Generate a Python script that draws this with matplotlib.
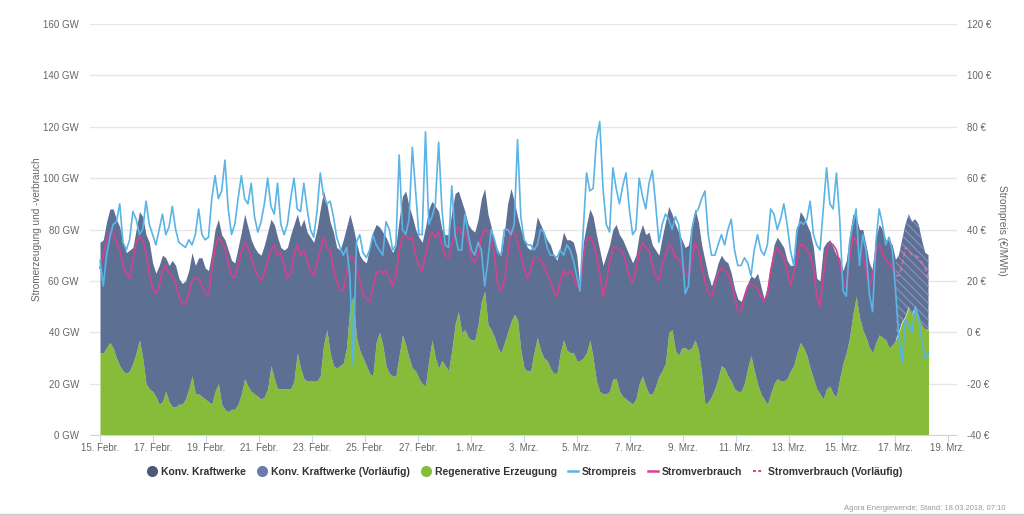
import matplotlib.pyplot as plt
import numpy as np
from matplotlib.lines import Line2D

plt.rcParams["font.family"] = ["Liberation Sans", "DejaVu Sans"]
plt.rcParams["hatch.linewidth"] = 1.0

# Werte alle 3 Stunden ab 15.02.2018 00:00 (eine Zeile = ein Tag)
GEN_TOTAL = [  # GW, Oberkante der Fläche (Regenerativ + Konventionell)
    75, 76, 83, 88, 88, 84, 81, 75,
    71, 72, 73, 80, 87, 85, 78, 75,
    67, 63, 66, 70, 69, 66, 68, 66,
    61, 59, 60, 64, 71, 66, 69, 69,
    65, 64, 71, 80, 84, 78, 76, 72,
    68, 67, 73, 79, 86, 81, 76, 73,
    71, 70, 74, 79, 84, 82, 77, 73,
    72, 73, 78, 82, 86, 81, 84, 79,
    77, 75, 80, 88, 95, 90, 83, 79,
    73, 72, 76, 81, 86, 81, 75, 70,
    68, 67, 73, 79, 82, 81, 79, 77,
    74, 71, 74, 84, 93, 95, 89, 85,
    80, 77, 75, 81, 88, 91, 89, 87,
    80, 78, 78, 87, 94, 95, 91, 87,
    82, 80, 79, 84, 92, 96, 86, 81,
    75, 72, 70, 79, 90, 96, 91, 85,
    80, 76, 73, 72, 77, 85, 82, 79,
    76, 74, 70, 68, 73, 79, 76, 76,
    75, 70, 57, 75, 82, 88, 85, 78,
    72, 66, 70, 74, 80, 82, 78, 76,
    73, 70, 67, 70, 78, 82, 78, 79,
    74, 72, 70, 77, 83, 89, 86, 82,
    79, 76, 73, 74, 82, 88, 83, 74,
    68, 62, 58, 62, 67, 70, 68, 67,
    63, 57, 53, 52, 55, 59, 62, 61,
    63, 58, 53, 58, 66, 74, 77, 75,
    73, 68, 66, 66, 80, 87, 85, 82,
    79, 73, 61, 60, 73, 75, 76, 73,
    70, 69, 64, 68, 78, 86, 85, 80,
    80, 74, 67, 64, 77, 82, 80, 76,
    76, 74, 68, 70, 76, 82, 86, 83,
    84, 82, 76, 71, 70,
]

RENEWABLE = [  # GW
    32, 32, 34, 36, 34, 30, 27, 25,
    24, 25, 28, 32, 37, 30, 20, 18,
    17, 15, 12, 13, 17, 13, 11, 11,
    12, 12, 14, 18, 23, 16, 16, 15,
    14, 13, 12, 17, 20, 12, 10, 9,
    10, 10, 12, 16, 22, 19, 17, 16,
    15, 14, 15, 18, 27, 22, 18, 18,
    18, 18, 18, 21, 32, 26, 22, 21,
    21, 21, 21, 23, 35, 41, 32, 27,
    26, 27, 28, 34, 50, 54, 38, 33,
    30, 27, 24, 23, 36, 40, 35, 27,
    24, 23, 23, 31, 39, 35, 30, 26,
    25, 22, 20, 19, 29, 37, 30, 26,
    29, 27, 25, 33, 43, 48, 40, 41,
    38, 37, 37, 43, 52, 56, 43, 41,
    38, 34, 32, 36, 40, 44, 47, 45,
    33, 26, 25, 25, 32, 38, 33, 30,
    29, 26, 24, 24, 32, 37, 33, 32,
    32, 29, 29, 30, 32, 37, 30, 21,
    17, 16, 16, 17, 22, 22, 17, 15,
    14, 13, 12, 14, 20, 23, 19, 16,
    16, 19, 23, 25, 28, 40, 41, 33,
    31, 34, 34, 33, 34, 37, 33, 24,
    12, 13, 15, 18, 22, 27, 26, 23,
    21, 18, 17, 17, 20, 26, 31, 25,
    20, 16, 14, 12, 16, 20, 22, 21,
    21, 22, 25, 27, 32, 36, 34, 31,
    26, 22, 18, 16, 14, 18, 19, 16,
    15, 22, 28, 32, 38, 47, 54, 46,
    41, 38, 34, 32, 36, 39, 38, 37,
    34, 35, 37, 40, 44, 46, 50, 47,
    50, 46, 43, 41, 41,
]

CONSUMPTION = [  # GW
    65, 70, 76, 79, 79, 75, 72, 66,
    63, 61, 68, 75, 77, 76, 71, 63,
    57, 55, 58, 64, 66, 63, 62, 59,
    54, 51, 51, 55, 60, 61, 61, 58,
    55, 55, 64, 73, 77, 75, 73, 67,
    62, 61, 66, 71, 75, 73, 69, 65,
    62, 60, 63, 68, 72, 74, 70, 71,
    66, 61, 63, 70, 74, 70, 72, 68,
    64, 62, 67, 72, 77, 73, 72, 65,
    60, 56, 56, 63, 70, 69, 66, 60,
    55, 53, 52, 57, 63, 64, 63, 64,
    61, 58, 62, 72, 77, 78, 76, 77,
    70, 66, 64, 70, 76, 79, 77, 79,
    74, 70, 69, 74, 79, 81, 78, 79,
    75, 69, 67, 70, 77, 80, 79, 77,
    70, 58, 56, 60, 70, 80, 79, 75,
    70, 65, 61, 64, 69, 69, 68, 66,
    63, 60, 56, 54, 60, 64, 62, 64,
    62, 58, 57, 69, 76, 77, 75, 70,
    63, 54, 59, 67, 73, 73, 72, 71,
    67, 62, 59, 64, 71, 75, 73, 72,
    66, 62, 60, 66, 70, 74, 73, 69,
    69, 66, 63, 61, 67, 75, 72, 66,
    60, 55, 54, 58, 63, 65, 64, 63,
    59, 54, 48, 48, 54, 58, 59, 58,
    57, 54, 52, 55, 64, 70, 73, 71,
    69, 64, 58, 63, 68, 74, 74, 72,
    70, 65, 54, 50, 62, 72, 75, 74,
    72, 67, 60, 57, 68, 77, 76, 70,
    70, 64, 58, 62, 72, 74, 71, 68,
    67, 65, 62, 62, 66, 73, 72, 70,
    70, 69, 67, 65, 60,
]

PRICE = [  # EUR/MWh
    28, 18, 30, 37, 42, 43, 50, 35,
    32, 36, 47, 44, 38, 40, 51, 42,
    38, 34, 40, 46, 38, 41, 49, 40,
    35, 34, 33, 36, 34, 38, 48, 38,
    36, 37, 52, 61, 52, 55, 67, 48,
    38, 42, 52, 61, 52, 50, 58, 45,
    39, 43, 50, 60, 49, 46, 58, 42,
    38, 42, 52, 60, 48, 47, 58, 48,
    40, 37, 47, 62, 53, 50, 51, 45,
    37, 33, 30, 33, 22, -13, 35, 38,
    31, 29, 32, 38, 34, 32, 30, 43,
    40, 32, 34, 69, 40, 38, 44, 72,
    55, 38, 38, 78, 42, 45, 50, 74,
    48, 34, 33, 57, 38, 32, 32, 46,
    38, 32, 30, 35, 32, 18, 28, 40,
    36, 31, 30, 40, 40, 38, 42, 75,
    45, 36, 34, 34, 32, 34, 40, 39,
    33, 30, 30, 29, 32, 30, 34, 32,
    28, 22, 16, 40, 62, 55, 56, 75,
    82, 56, 42, 39, 64, 56, 50, 57,
    62, 48, 38, 40, 60, 53, 48, 58,
    63, 50, 35, 42, 46, 44, 40, 45,
    42, 32, 15, 18, 40, 46, 48, 52,
    55, 38, 30, 30, 34, 38, 34, 40,
    44, 32, 26, 26, 29, 27, 22, 32,
    38, 32, 30, 34, 48, 46, 40, 44,
    50, 42, 32, 26, 40, 43, 42, 44,
    51, 38, 34, 32, 48, 64, 50, 48,
    62, 44, 16, 14, 35, 42, 48, 26,
    38, 32, 15, 8, 35, 48, 42, 34,
    37, 32, 16, -2, -12, 5, 3, 0,
    10, 6, -4, -10, -8,
]

PRELIM_START = 242  # ab hier vorläufige Werte

X_LABELS = [
    "15. Febr.", "17. Febr.", "19. Febr.", "21. Febr.", "23. Febr.", "25. Febr.",
    "27. Febr.", "1. Mrz.", "3. Mrz.", "5. Mrz.", "7. Mrz.", "9. Mrz.",
    "11. Mrz.", "13. Mrz.", "15. Mrz.", "17. Mrz.", "19. Mrz.",
]

C_CONV = "#5e6f94"
C_REN = "#86bc3a"
C_PRICE = "#5ab4e5"
C_CONS = "#d6418d"
C_GRID = "#e6e6e6"
C_TEXT = "#666666"

total = np.array(GEN_TOTAL, dtype=float)
ren = np.array(RENEWABLE, dtype=float)
cons = np.array(CONSUMPTION, dtype=float)
price = np.array(PRICE, dtype=float)
# sample spacing in days (3 h, matched to the pixel grid used when reading)
x = np.arange(len(total)) * 0.125 * 0.9925

fig = plt.figure(figsize=(10.24, 5.15), dpi=100)
ax = fig.add_axes([90 / 1024, 80 / 515, 867 / 1024, 411 / 515])
ax2 = ax.twinx()

p = PRELIM_START
ax.fill_between(x, 0, ren, color=C_REN, linewidth=0)
ax.fill_between(x[:p + 1], ren[:p + 1], total[:p + 1], color=C_CONV, linewidth=0)
ax.fill_between(x[p:], ren[p:], total[p:], facecolor=C_CONV, edgecolor="#7f8fb6",
                hatch="\\\\\\\\", linewidth=0)
ax.plot(x[:p + 1], cons[:p + 1], color=C_CONS, lw=1.2)
ax.plot(x[p:], cons[p:], color="#d873aa", lw=1.1, ls=(0, (3, 2)))
ax2.plot(x, price, color=C_PRICE, lw=1.2)

ax.set_xlim(-10 / 26.5, 857 / 26.5)
ax.set_ylim(0, 160)
ax2.set_ylim(-40, 120)

ax.set_yticks(range(0, 161, 20))
ax.set_yticklabels([f"{v} GW" for v in range(0, 161, 20)])
ax2.set_yticks(range(-40, 121, 20))
ax2.set_yticklabels([f"{v} €" for v in range(-40, 121, 20)])
ax.set_xticks(np.arange(0, 33, 2))
ax.set_xticklabels(X_LABELS)

ax.set_axisbelow(True)
ax.grid(axis="y", color=C_GRID, lw=1)
for a in (ax, ax2):
    for s in a.spines.values():
        s.set_visible(False)
ax.spines["bottom"].set_visible(True)
ax.spines["bottom"].set_color("#ccd6eb")
ax.tick_params(axis="x", length=5, color="#ccd6eb", labelsize=7, labelcolor=C_TEXT, pad=1)
ax.tick_params(axis="y", length=0, labelsize=7, labelcolor=C_TEXT, pad=8)
ax2.tick_params(axis="y", length=0, labelsize=7, labelcolor=C_TEXT, pad=7.5)

fig.text(37 / 1024, 1 - 229 / 515, "Stromerzeugung und -verbrauch", rotation=90,
         ha="center", va="center", fontsize=7.2, color=C_TEXT)
fig.text(1002 / 1024, 1 - 230 / 515, "Strompreis (€/MWh)", rotation=270,
         ha="center", va="center", fontsize=7.3, color=C_TEXT)

handles = [
    Line2D([], [], marker="o", ls="none", markerfacecolor="#4c5876", markeredgecolor="none", markersize=8),
    Line2D([], [], marker="o", ls="none", markerfacecolor="#6a7bab", markeredgecolor="none", markersize=8),
    Line2D([], [], marker="o", ls="none", markerfacecolor=C_REN, markeredgecolor="none", markersize=8),
    Line2D([], [], color=C_PRICE, lw=1.8),
    Line2D([], [], color=C_CONS, lw=1.8),
    Line2D([], [], color=C_CONS, lw=1.4, ls=(0, (1.5, 1.2))),
]
labels = ["Konv. Kraftwerke", "Konv. Kraftwerke (Vorläufig)", "Regenerative Erzeugung",
          "Strompreis", "Stromverbrauch", "Stromverbrauch (Vorläufig)"]
leg = fig.legend(handles, labels, loc="center", bbox_to_anchor=(0.512, 1 - 472 / 515), ncol=6,
                 frameon=False, prop={"weight": "bold", "size": 7.5},
                 handlelength=1.0, handletextpad=0.4, columnspacing=1.0)
for t in leg.get_texts():
    t.set_color("#333333")

fig.text(1005 / 1024, 1 - 508 / 515, "Agora Energiewende; Stand: 18.03.2018, 07:10",
         ha="right", va="center", fontsize=5.5, color="#999999")
fig.add_artist(Line2D([0, 1], [1.5 / 515, 1.5 / 515], color="#cccccc", lw=1))

fig.savefig("out.png", dpi=100)
